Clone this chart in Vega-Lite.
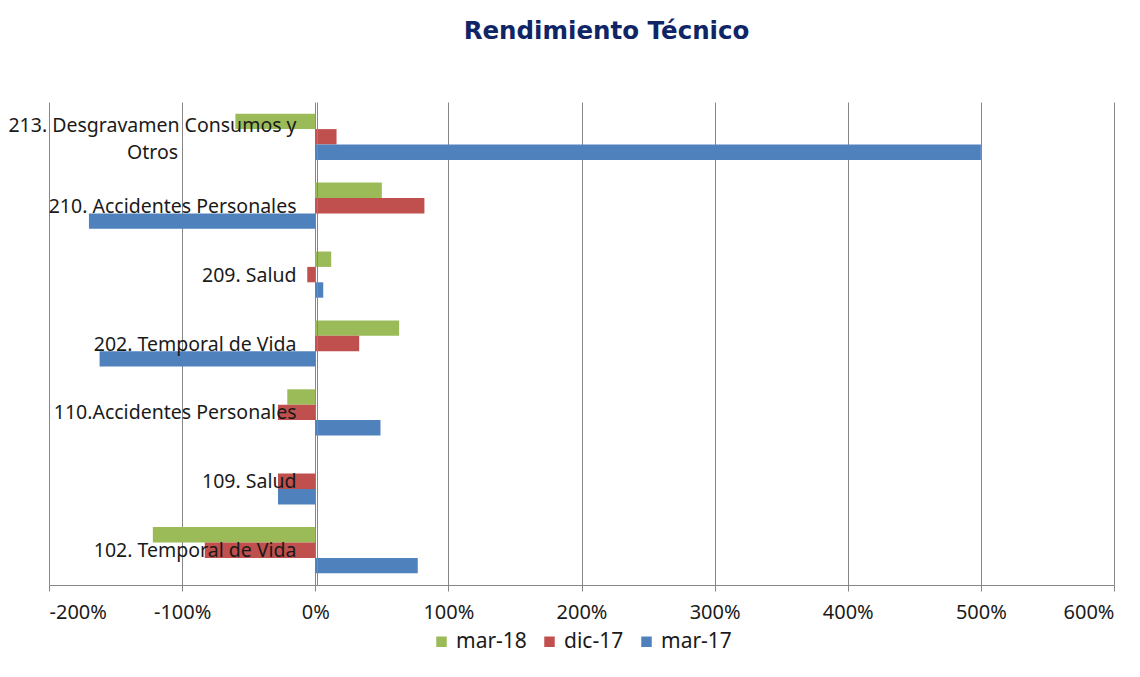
{
  "$schema": "https://vega.github.io/schema/vega-lite/v6.json",
  "width": 1065,
  "height": 483,
  "padding": {"left": 7, "top": 18, "right": 20, "bottom": 10},
  "background": "white",
  "title": {
    "text": "Rendimiento Técnico",
    "font": "DejaVu Sans",
    "fontSize": 24.5,
    "fontWeight": "bold",
    "color": "#0F2566",
    "offset": 58,
    "anchor": "middle",
    "dx": 25
  },
  "data": {
    "values": [
      {"ramo": "213. Desgravamen Consumos y Otros", "periodo": "mar-18", "valor": -0.60},
      {"ramo": "213. Desgravamen Consumos y Otros", "periodo": "dic-17", "valor": 0.16},
      {"ramo": "213. Desgravamen Consumos y Otros", "periodo": "mar-17", "valor": 5.00},
      {"ramo": "210. Accidentes Personales", "periodo": "mar-18", "valor": 0.50},
      {"ramo": "210. Accidentes Personales", "periodo": "dic-17", "valor": 0.82},
      {"ramo": "210. Accidentes Personales", "periodo": "mar-17", "valor": -1.70},
      {"ramo": "209. Salud", "periodo": "mar-18", "valor": 0.12},
      {"ramo": "209. Salud", "periodo": "dic-17", "valor": -0.06},
      {"ramo": "209. Salud", "periodo": "mar-17", "valor": 0.06},
      {"ramo": "202. Temporal de Vida", "periodo": "mar-18", "valor": 0.63},
      {"ramo": "202. Temporal de Vida", "periodo": "dic-17", "valor": 0.33},
      {"ramo": "202. Temporal de Vida", "periodo": "mar-17", "valor": -1.62},
      {"ramo": "110.Accidentes Personales", "periodo": "mar-18", "valor": -0.21},
      {"ramo": "110.Accidentes Personales", "periodo": "dic-17", "valor": -0.28},
      {"ramo": "110.Accidentes Personales", "periodo": "mar-17", "valor": 0.49},
      {"ramo": "109. Salud", "periodo": "mar-18", "valor": 0.0},
      {"ramo": "109. Salud", "periodo": "dic-17", "valor": -0.28},
      {"ramo": "109. Salud", "periodo": "mar-17", "valor": -0.28},
      {"ramo": "102. Temporal de Vida", "periodo": "mar-18", "valor": -1.22},
      {"ramo": "102. Temporal de Vida", "periodo": "dic-17", "valor": -0.83},
      {"ramo": "102. Temporal de Vida", "periodo": "mar-17", "valor": 0.77}
    ]
  },
  "mark": {"type": "bar"},
  "encoding": {
    "y": {
      "field": "ramo",
      "type": "nominal",
      "sort": ["213. Desgravamen Consumos y Otros", "210. Accidentes Personales", "209. Salud", "202. Temporal de Vida", "110.Accidentes Personales", "109. Salud", "102. Temporal de Vida"],
      "scale": {"paddingInner": 0.33, "paddingOuter": 0.17},
      "axis": {
        "title": null,
        "offset": -268,
        "ticks": false,
        "domainColor": "#868686",
        "labelFont": "Noto Sans",
        "labelFontSize": 19.5,
        "labelColor": "#1a1a1a",
        "labelPadding": {"condition": {"test": "datum.value == '213. Desgravamen Consumos y Otros'", "value": 165}, "value": 21},
        "labelAlign": {"condition": {"test": "datum.value == '213. Desgravamen Consumos y Otros'", "value": "center"}, "value": "right"},
        "labelOffset": {"condition": {"test": "datum.value == '213. Desgravamen Consumos y Otros'", "value": -11}, "value": 1},
        "labelLimit": 400,
        "labelLineHeight": 27,
        "zindex": 1,
        "labelExpr": "datum.value == '213. Desgravamen Consumos y Otros' ? ['213. Desgravamen Consumos y', 'Otros'] : datum.label"
      }
    },
    "yOffset": {
      "field": "periodo",
      "type": "nominal",
      "sort": ["mar-18", "dic-17", "mar-17"],
      "scale": {"paddingInner": 0}
    },
    "x": {
      "field": "valor",
      "type": "quantitative",
      "scale": {"domain": [-2, 6], "nice": false},
      "axis": {
        "title": null,
        "values": [-2, -1, 0, 1, 2, 3, 4, 5, 6],
        "format": ".0%",
        "labelExpr": "replace(datum.label, '−', '-')",
        "labelOverlap": false,
        "grid": true,
        "gridColor": "#868686",
        "domainColor": "#868686",
        "tickColor": "#868686",
        "tickSize": 6,
        "labelFont": "Noto Sans",
        "labelFontSize": 20,
        "labelColor": "#1a1a1a",
        "labelPadding": 11
      }
    },
    "color": {
      "field": "periodo",
      "type": "nominal",
      "sort": ["mar-18", "dic-17", "mar-17"],
      "scale": {"domain": ["mar-18", "dic-17", "mar-17"], "range": ["#9BBB59", "#C0504D", "#4F81BD"]},
      "legend": {
        "title": null,
        "orient": "bottom",
        "direction": "horizontal",
        "symbolType": "square",
        "symbolSize": 110,
        "symbolStrokeWidth": 0,
        "labelFont": "Noto Sans",
        "labelFontSize": 21,
        "labelColor": "#1a1a1a",
        "columnPadding": 12,
        "offset": 9
      }
    }
  },
  "config": {
    "view": {"stroke": null},
    "legend": {"layout": {"bottom": {"anchor": "middle"}}}
  }
}
